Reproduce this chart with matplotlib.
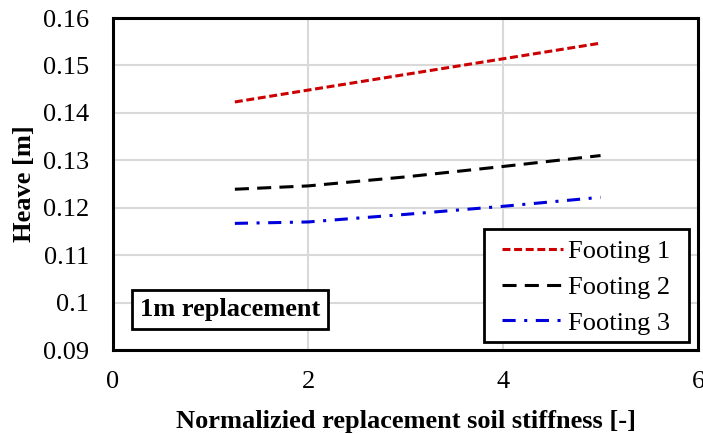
import matplotlib
matplotlib.use("Agg")
import matplotlib.pyplot as plt
from matplotlib.patches import Rectangle

x = [1.25, 2, 3, 4, 5]
footing1 = [0.1423, 0.1448, 0.1481, 0.1514, 0.1547]
footing2 = [0.1239, 0.1246, 0.1265, 0.1287, 0.1310]
footing3 = [0.1167, 0.1170, 0.1186, 0.1203, 0.1222]
labels = ["Footing 1", "Footing 2", "Footing 3"]

plt.rcParams['font.family'] = ['Liberation Serif', 'DejaVu Serif']

fig = plt.figure(figsize=(7.03, 4.34), dpi=100)
ax = fig.add_axes([0.1607, 0.1935, 0.8323, 0.765])

ax.plot(x, footing1, color='#cc0000', lw=2.2, dashes=(2.6, 1.2), label=labels[0])
ax.plot(x, footing2, color='black', lw=2.2, dashes=(4.6, 2.7), label=labels[1])
ax.plot(x, footing3, color='#0000dd', lw=2.2, dashes=(4.3, 2.8, 1.0, 2.8), label=labels[2])

ax.set_xlim(0, 6)
ax.set_ylim(0.09, 0.16)
ax.set_xticks([0, 2, 4, 6])
ax.set_yticks([0.09, 0.10, 0.11, 0.12, 0.13, 0.14, 0.15, 0.16])
ax.set_yticklabels(["0.09", "0.1", "0.11", "0.12", "0.13", "0.14", "0.15", "0.16"])
ax.grid(True, color='#d9d9d9', lw=1.5)
ax.set_axisbelow(True)
ax.tick_params(axis='y', length=0, labelsize=19, pad=17)
ax.tick_params(axis='x', length=0, labelsize=19, pad=15)
for s in ax.spines.values():
    s.set_linewidth(2.2)
    s.set_color('black')

ax.set_xlabel("Normalizied replacement soil stiffness [-]", fontsize=19, fontweight='bold', labelpad=12)
ax.set_ylabel("Heave [m]", fontsize=19, fontweight='bold', labelpad=5)

# legend frame drawn separately (wider horizontal padding as in reference)
ax.add_patch(Rectangle((0.634, 0.024), 0.351, 0.340, transform=ax.transAxes,
                       fc='white', ec='black', lw=2.0, zorder=4))
leg = ax.legend(loc='upper left', bbox_to_anchor=(0.665, 0.333), fontsize=19,
                frameon=False, handlelength=2.3, handletextpad=0.2,
                borderpad=0.0, labelspacing=0.47, borderaxespad=0.0)
leg.set_zorder(5)

ax.text(0.046, 0.123, "1m replacement", transform=ax.transAxes, fontsize=19,
        fontweight='bold', va='center', ha='left',
        bbox=dict(boxstyle='square,pad=0.3', fc='white', ec='black', lw=2.0))

fig.savefig("out.png", dpi=100)
